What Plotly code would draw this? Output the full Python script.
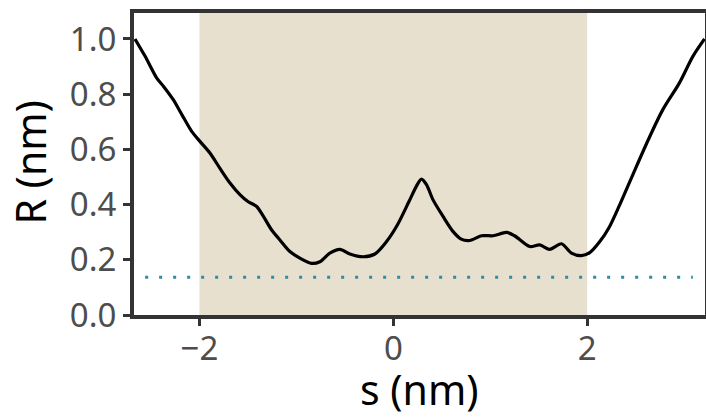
import plotly.graph_objects as go

# Curve R(s)
s_vals = [-2.665, -2.56, -2.44, -2.37, -2.27, -2.18, -2.08, -1.995, -1.89, -1.79, -1.685,
          -1.58, -1.50, -1.41, -1.34, -1.255, -1.17, -1.067, -0.964, -0.843, -0.758,
          -0.655, -0.552, -0.448, -0.311, -0.19, -0.07, 0.04, 0.16, 0.24, 0.29, 0.342,
          0.41, 0.513, 0.617, 0.70, 0.789, 0.909, 1.03, 1.167, 1.25, 1.407, 1.51, 1.613,
          1.734, 1.837, 1.94, 2.026, 2.13, 2.23, 2.335, 2.47, 2.63, 2.78, 2.95, 3.09, 3.21]
r_vals = [1.0, 0.937, 0.858, 0.828, 0.780, 0.725, 0.665, 0.629, 0.586, 0.532, 0.478,
          0.435, 0.411, 0.393, 0.357, 0.308, 0.272, 0.230, 0.206, 0.187, 0.193,
          0.224, 0.238, 0.221, 0.211, 0.221, 0.266, 0.325, 0.410, 0.468, 0.492, 0.472,
          0.417, 0.357, 0.302, 0.275, 0.270, 0.287, 0.287, 0.299, 0.287, 0.248, 0.254, 0.238,
          0.258, 0.224, 0.215, 0.226, 0.266, 0.320, 0.399, 0.508, 0.635, 0.744, 0.840, 0.937, 1.0]

# Reference level (dotted line)
hline_y = 0.137
hline_x = [-2.56, 3.09]

# Shaded region
band_x = [-2, 2]

x_range = [-2.675, 3.215]
y_range = [0, 1.094]
x_ticks = [-2, 0, 2]
x_ticktext = ["\u22122", "0", "2"]
y_ticks = [0.0, 0.2, 0.4, 0.6, 0.8, 1.0]
y_ticktext = ["0.0", "0.2", "0.4", "0.6", "0.8", "1.0"]
x_title = "s (nm)"
y_title = "R (nm)"

fig = go.Figure()

fig.add_shape(type="rect", xref="x", yref="paper", x0=band_x[0], x1=band_x[1], y0=0, y1=1,
              fillcolor="#e8e0ce", line=dict(width=0), layer="below")

fig.add_trace(go.Scatter(x=hline_x, y=[hline_y, hline_y], mode="lines",
                         line=dict(color="#2f8ca1", width=3, dash="3px,11px"),
                         hoverinfo="skip", showlegend=False))

fig.add_trace(go.Scatter(x=s_vals, y=r_vals, mode="lines",
                         line=dict(color="black", width=3.2, shape="spline", smoothing=0.8),
                         showlegend=False))

font_family = "Noto Sans, Open Sans, DejaVu Sans, sans-serif"

fig.add_annotation(text=x_title, xref="paper", yref="paper", x=0.5, y=-0.245,
                   xanchor="center", yanchor="middle", showarrow=False,
                   font=dict(size=41, color="black", family=font_family))
fig.add_annotation(text=y_title, xref="paper", yref="paper", x=-0.182, y=0.505,
                   xanchor="center", yanchor="middle", showarrow=False, textangle=-90,
                   font=dict(size=41, color="black", family=font_family))

fig.update_layout(
    width=706, height=417,
    margin=dict(l=134, r=1, t=13, b=102, autoexpand=False),
    paper_bgcolor="white", plot_bgcolor="white",
    font=dict(family=font_family),
    xaxis=dict(range=x_range, tickvals=x_ticks, ticktext=x_ticktext,
               showgrid=False, zeroline=False, automargin=False,
               showline=True, mirror=True, linecolor="#333333", linewidth=4,
               ticks="outside", ticklen=7, tickwidth=3, tickcolor="#333333",
               ticklabelstandoff=-6,
               tickfont=dict(size=33, color="#4d4d4d", family=font_family)),
    yaxis=dict(range=y_range, tickvals=y_ticks, ticktext=y_ticktext,
               showgrid=False, zeroline=False, automargin=False,
               showline=True, mirror=True, linecolor="#333333", linewidth=4,
               ticks="outside", ticklen=7, tickwidth=3, tickcolor="#333333",
               tickfont=dict(size=33, color="#4d4d4d", family=font_family)),
)

fig.write_html("out.html", post_script="document.body.style.margin='0';",
               config={"displayModeBar": False})
